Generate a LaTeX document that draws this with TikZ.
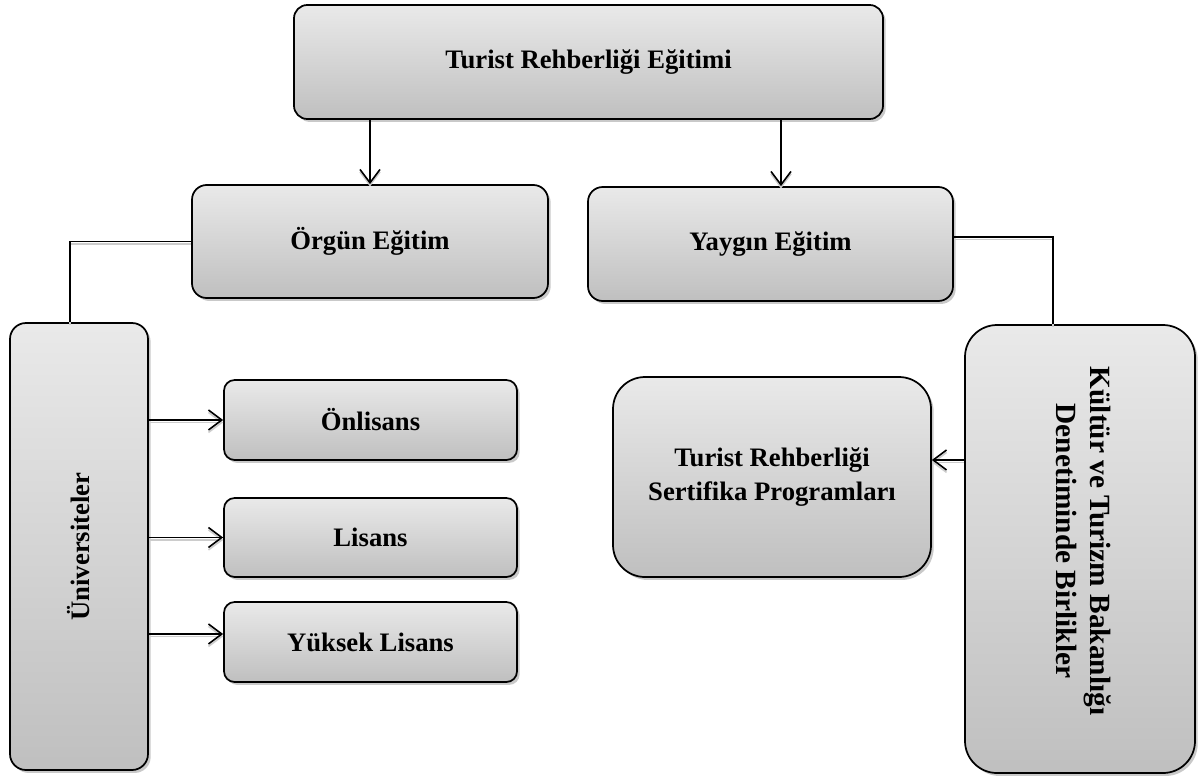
\documentclass[tikz,border=0pt]{standalone}
\usepackage{fontspec}
\setmainfont{Liberation Serif}
\usepackage{graphicx}
\usepackage{tikz}
\usetikzlibrary{arrows.meta}
\usetikzlibrary{shadows}
\usetikzlibrary{calc}

\begin{document}
\begin{tikzpicture}[x=0.75pt, y=-0.75pt,
    kutu/.style={draw, line width=1.3pt, top color=gray!17, bottom color=gray!50,
        drop shadow={shadow xshift=2pt, shadow yshift=-2.2pt, fill=gray!85},
        inner sep=2pt, align=center, font=\fontsize{20}{25}\selectfont\bfseries},
    baglanti/.style={line width=1.2pt,
        preaction={draw=gray!40, line width=1.2pt, transform canvas={yshift=-1.8pt}}},
    ok/.style={baglanti, -{Straight Barb[length=10pt, width=15pt]}}
]
    \useasboundingbox (0, 0) rectangle (1198, 778);
    %% ust kutu
    \node[kutu, rounded corners=10pt, minimum width=441.75pt, minimum height=85.5pt] (egitim) at (588.5, 62) {Turist Rehberliği Eğitimi};
    %% ikinci sira
    \node[kutu, rounded corners=11pt, minimum width=267pt, minimum height=84.75pt] (orgun) at (370, 241.5) {Örgün Eğitim};
    \node[kutu, rounded corners=11pt, minimum width=273.75pt, minimum height=85.5pt] (yaygin) at (770.5, 244) {Yaygın Eğitim};
    %% dikey kutular
    \node[kutu, rounded corners=12pt, minimum width=103.5pt, minimum height=335.25pt] (uni) at (79, 546.5) {\rotatebox{90}{Üniversiteler}};
    \node[kutu, rounded corners=24pt, minimum width=172.5pt, minimum height=336pt,
        font=\fontsize{22}{25}\selectfont\bfseries] (kultur) at (1080, 549)
        {\rotatebox{-90}{\begin{tabular}{@{}c@{}}Kültür ve Turizm Bakanlığı\\Denetiminde Birlikler\end{tabular}\hspace{12pt}}};
    %% alt kutular
    \node[kutu, rounded corners=8pt, minimum width=219.75pt, minimum height=60pt] (onlisans) at (370.5, 420) {Önlisans};
    \node[kutu, rounded corners=8pt, minimum width=219.75pt, minimum height=59.25pt] (lisans) at (370.5, 537.5) {Lisans};
    \node[kutu, rounded corners=8pt, minimum width=219.75pt, minimum height=60pt] (yuksek) at (370.5, 642) {Yüksek Lisans};
    \node[kutu, rounded corners=24pt, minimum width=238.5pt, minimum height=150pt] (sertifika) at (772, 477) {Turist Rehberliği\\Sertifika Programları};

    %% baglantilar
    \coordinate (yOk) at ($(yaygin.north)+(10.5,0)$);
    \coordinate (uTepe) at ($(uni.north)+(-9,0)$);
    \coordinate (yYan) at ($(yaygin.east)+(0,-7)$);
    \coordinate (kTepe) at ($(kultur.north)+(-27,0)$);
    \coordinate (ySol) at ($(yuksek.west)+(0,-8)$);
    \coordinate (sOk) at ($(sertifika.east)+(0,-17)$);

    \draw[ok] (egitim.south -| orgun.north) -- (orgun.north);
    \draw[ok] (egitim.south -| yOk) -- (yOk);
    \draw[baglanti] (orgun.west) -| (uTepe);
    \draw[baglanti] (yYan) -| (kTepe);
    \foreach \k in {onlisans, lisans}
        \draw[ok] (uni.east |- \k.west) -- (\k.west);
    \draw[ok] (uni.east |- ySol) -- (ySol);
    \draw[ok] (kultur.west |- sOk) -- (sOk);
\end{tikzpicture}
\end{document}
